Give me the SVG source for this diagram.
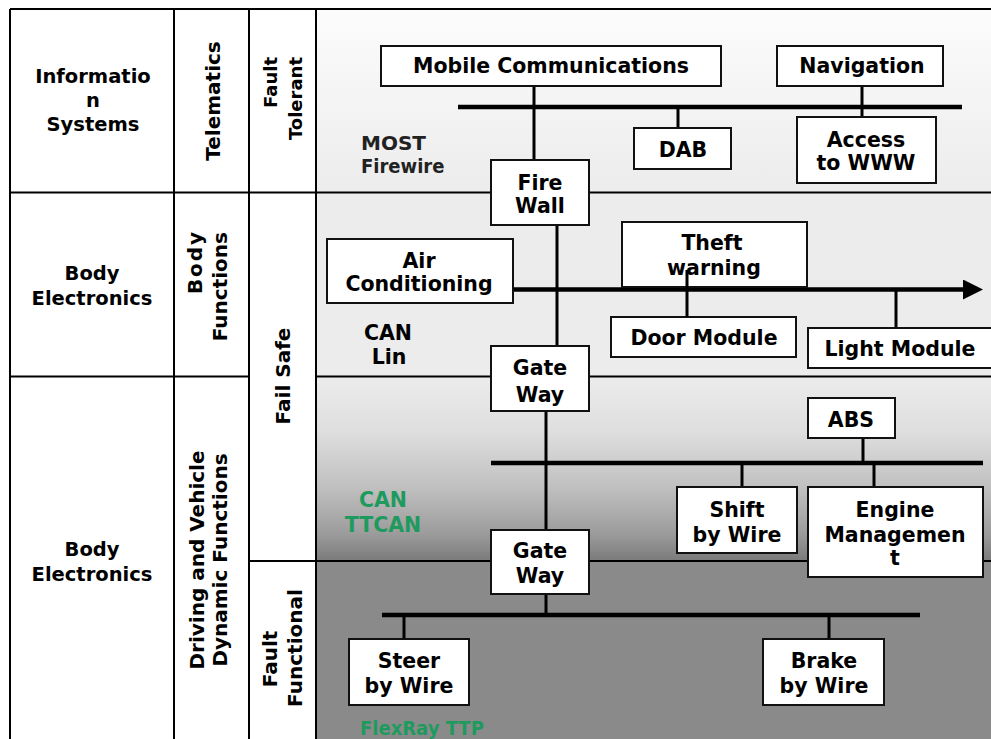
<svg xmlns="http://www.w3.org/2000/svg" width="991" height="739" viewBox="0 0 991 739">
  <defs>
    <linearGradient id="gTop" x1="0" y1="0" x2="0" y2="1">
      <stop offset="0" stop-color="#fcfcfc"/>
      <stop offset="1" stop-color="#ececec"/>
    </linearGradient>
    <linearGradient id="gDrive" x1="0" y1="0" x2="0" y2="1">
      <stop offset="0" stop-color="#ececec"/>
      <stop offset="0.3" stop-color="#dedede"/>
      <stop offset="0.6" stop-color="#c0c0c0"/>
      <stop offset="0.85" stop-color="#9c9c9c"/>
      <stop offset="1" stop-color="#7a7a7a"/>
    </linearGradient>
    <marker id="arrow" markerUnits="userSpaceOnUse" markerWidth="22" markerHeight="22" refX="0" refY="10" orient="auto">
      <path d="M0,0 L20,10 L0,20 Z" fill="#000"/>
    </marker>
  </defs>
  <style>
    .grid { stroke: #000; stroke-width: 2; fill: none; }
    .box { fill: #fff; stroke: #111; stroke-width: 2; }
    .bus { stroke: #000; stroke-width: 4.5; fill: none; }
    .tap { stroke: #000; stroke-width: 3; fill: none; }
    text { font-family: "DejaVu Sans", Verdana, "Liberation Sans", sans-serif; font-weight: bold; fill: #000; }
    .hd { font-size: 19.5px; text-anchor: middle; }
    .rot { font-size: 20px; }
    .rot-sm { font-size: 18px; }
    .lbl { font-size: 20.5px; text-anchor: middle; }
    .bus-name { font-size: 20px; fill: #222; }
    .narrow { font-family: "DejaVu Sans Condensed", "DejaVu Sans", "Liberation Sans Narrow", sans-serif; }
    .green { fill: #1f9a5e; }
  </style>

  <!-- network layer backgrounds -->
  <rect x="316" y="9" width="675" height="184" fill="url(#gTop)"/>
  <rect x="316" y="193" width="675" height="184" fill="#ececec"/>
  <rect x="316" y="377" width="675" height="184" fill="url(#gDrive)"/>
  <rect x="316" y="561" width="675" height="178" fill="#8a8a8a"/>

  <!-- classification table grid -->
  <g id="table-grid" class="grid">
    <line x1="10" y1="9" x2="991" y2="9"/>
    <line x1="10" y1="9" x2="10" y2="739"/>
    <line x1="174" y1="9" x2="174" y2="739"/>
    <line x1="249" y1="9" x2="249" y2="739"/>
    <line x1="316" y1="9" x2="316" y2="739"/>
    <line x1="10" y1="192.5" x2="991" y2="192.5"/>
    <line x1="10" y1="376.5" x2="249" y2="376.5"/>
    <line x1="316" y1="376.5" x2="991" y2="376.5"/>
    <line x1="249" y1="561" x2="991" y2="561"/>
  </g>

  <!-- domain column -->
  <g id="domain-info">
    <text class="hd" x="93" y="83">Informatio</text>
    <text class="hd" x="93" y="107">n</text>
    <text class="hd" x="93" y="131">Systems</text>
  </g>
  <g id="domain-body">
    <text class="hd" x="92" y="280">Body</text>
    <text class="hd" x="92" y="305">Electronics</text>
  </g>
  <g id="domain-driving">
    <text class="hd" x="92" y="556">Body</text>
    <text class="hd" x="92" y="581">Electronics</text>
  </g>

  <!-- function column -->
  <g id="func-telematics">
    <text class="rot" text-anchor="middle" transform="translate(220,101) rotate(-90)">Telematics</text>
  </g>
  <g id="func-body">
    <text class="rot" text-anchor="end" textLength="62" lengthAdjust="spacing" transform="translate(202,232) rotate(-90)">Body</text>
    <text class="rot" text-anchor="end" transform="translate(227,232) rotate(-90)">Functions</text>
  </g>
  <g id="func-driving">
    <text class="rot" text-anchor="middle" transform="translate(204,560) rotate(-90)">Driving and Vehicle</text>
    <text class="rot" text-anchor="middle" transform="translate(227,560) rotate(-90)">Dynamic Functions</text>
  </g>

  <!-- fault handling column -->
  <g id="fault-tolerant">
    <text class="rot-sm" text-anchor="end" transform="translate(277,57) rotate(-90)">Fault</text>
    <text class="rot-sm" text-anchor="end" transform="translate(302,57) rotate(-90)">Tolerant</text>
  </g>
  <g id="fail-safe">
    <text class="rot" text-anchor="middle" transform="translate(290,376) rotate(-90)">Fail Safe</text>
  </g>
  <g id="fault-functional">
    <text class="rot" text-anchor="middle" transform="translate(277,659) rotate(-90)">Fault</text>
    <text class="rot" text-anchor="middle" transform="translate(302,648) rotate(-90)">Functional</text>
  </g>

  <!-- bus names -->
  <g id="bus-most">
    <text class="bus-name" x="361" y="150">MOST</text>
    <text class="bus-name narrow" x="361" y="173">Firewire</text>
  </g>
  <g id="bus-can-lin">
    <text class="lbl" x="388" y="340">CAN</text>
    <text class="lbl" x="389" y="364">Lin</text>
  </g>
  <g id="bus-can-ttcan">
    <text class="lbl green" x="383" y="507">CAN</text>
    <text class="lbl green" x="383" y="532">TTCAN</text>
  </g>
  <g id="bus-flexray">
    <text class="bus-name green narrow" x="360" y="735">FlexRay TTP</text>
  </g>

  <!-- connectors -->
  <g id="connectors">
    <line class="bus" x1="458" y1="107" x2="962" y2="107"/>
    <line class="bus" x1="513" y1="289.5" x2="963" y2="289.5" marker-end="url(#arrow)"/>
    <line class="bus" x1="491" y1="463" x2="983" y2="463"/>
    <line class="bus" x1="382" y1="615" x2="920" y2="615"/>
    <line class="tap" x1="534" y1="86" x2="534" y2="160"/>
    <line class="tap" x1="678" y1="107" x2="678" y2="128"/>
    <line class="tap" x1="862" y1="86" x2="862" y2="117"/>
    <line class="tap" x1="557" y1="225" x2="557" y2="346"/>
    <line class="tap" x1="896" y1="289" x2="896" y2="328"/>
    <line class="tap" x1="546" y1="411" x2="546" y2="530"/>
    <line class="tap" x1="863" y1="438" x2="863" y2="463"/>
    <line class="tap" x1="742" y1="463" x2="742" y2="487"/>
    <line class="tap" x1="874" y1="463" x2="874" y2="487"/>
    <line class="tap" x1="546" y1="594" x2="546" y2="615"/>
    <line class="tap" x1="404" y1="615" x2="404" y2="639"/>
    <line class="tap" x1="829" y1="615" x2="829" y2="639"/>
  </g>

  <!-- telematics nodes -->
  <g id="mobile-communications">
    <rect class="box" x="381" y="46" width="340" height="40"/>
    <text class="lbl" x="551" y="73">Mobile Communications</text>
  </g>
  <g id="navigation">
    <rect class="box" x="777" y="46" width="166" height="40"/>
    <text class="lbl" x="862" y="73">Navigation</text>
  </g>
  <g id="dab">
    <rect class="box" x="634" y="128" width="97" height="41"/>
    <text class="lbl" x="683" y="157">DAB</text>
  </g>
  <g id="access-www">
    <rect class="box" x="797" y="117" width="139" height="66"/>
    <text class="lbl" x="866" y="147">Access</text>
    <text class="lbl" x="866" y="170">to WWW</text>
  </g>
  <g id="fire-wall">
    <rect class="box" x="491" y="160" width="98" height="65"/>
    <text class="lbl" x="540" y="190">Fire</text>
    <text class="lbl" x="540" y="213">Wall</text>
  </g>

  <!-- body function nodes -->
  <g id="air-conditioning">
    <rect class="box" x="327" y="239" width="186" height="64"/>
    <text class="lbl" x="419" y="268">Air</text>
    <text class="lbl" x="419" y="291">Conditioning</text>
  </g>
  <g id="theft-warning">
    <rect class="box" x="622" y="222" width="185" height="65"/>
    <text class="lbl" x="712" y="250">Theft</text>
    <text class="lbl" x="714" y="275">warning</text>
  </g>
  <g id="door-module">
    <rect class="box" x="611" y="317" width="185" height="40"/>
    <text class="lbl" x="704" y="345">Door Module</text>
  </g>
  <g id="light-module">
    <rect class="box" x="808" y="328" width="190" height="40"/>
    <text class="lbl" x="900" y="356">Light Module</text>
  </g>
  <g id="gateway-body">
    <rect class="box" x="491" y="346" width="98" height="65"/>
    <text class="lbl" x="540" y="375">Gate</text>
    <text class="lbl" x="540" y="402">Way</text>
  </g>

  <!-- driving dynamics nodes -->
  <g id="abs">
    <rect class="box" x="808" y="398" width="87" height="40"/>
    <text class="lbl" x="851" y="427">ABS</text>
  </g>
  <g id="shift-by-wire">
    <rect class="box" x="677" y="487" width="120" height="66"/>
    <text class="lbl" x="737" y="517">Shift</text>
    <text class="lbl" x="737" y="542">by Wire</text>
  </g>
  <g id="engine-management">
    <rect class="box" x="808" y="487" width="175" height="90"/>
    <text class="lbl" x="895" y="517">Engine</text>
    <text class="lbl" x="895" y="542">Managemen</text>
    <text class="lbl" x="895" y="565">t</text>
  </g>
  <g id="gateway-driving">
    <rect class="box" x="491" y="530" width="98" height="64"/>
    <text class="lbl" x="540" y="558">Gate</text>
    <text class="lbl" x="540" y="583">Way</text>
  </g>

  <!-- x-by-wire nodes -->
  <g id="steer-by-wire">
    <rect class="box" x="349" y="639" width="120" height="66"/>
    <text class="lbl" x="409" y="668">Steer</text>
    <text class="lbl" x="409" y="693">by Wire</text>
  </g>
  <g id="brake-by-wire">
    <rect class="box" x="763" y="639" width="121" height="66"/>
    <text class="lbl" x="824" y="668">Brake</text>
    <text class="lbl" x="824" y="693">by Wire</text>
  </g>

  <!-- theft warning tap crosses into its box -->
  <line class="tap" x1="687" y1="270" x2="687" y2="317"/>
</svg>
